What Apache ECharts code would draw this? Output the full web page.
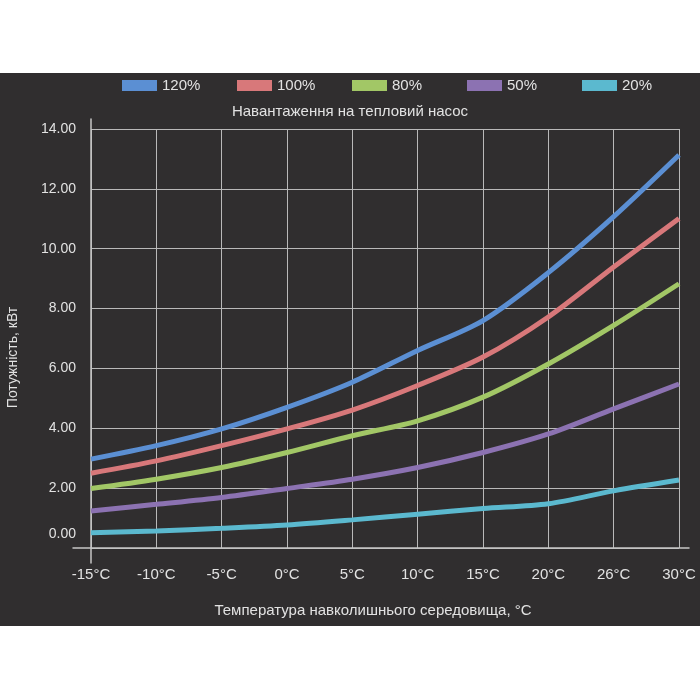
<!DOCTYPE html>
<html>
<head>
<meta charset="utf-8">
<script src="https://cdn.jsdelivr.net/npm/echarts@6/dist/echarts.min.js"></script>
<style>
    html, body { margin: 0; padding: 0; background: #ffffff; }
    #chart { width: 700px; height: 553px; margin-top: 73px; }
</style>
</head>
<body>
<div id="chart"></div>
<script>
    // температура навколишнього середовища
    var temps = ['-15°C', '-10°C', '-5°C', '0°C', '5°C', '10°C', '15°C', '20°C', '26°C', '30°C'];
    var loadNames = ['120%', '100%', '80%', '50%', '20%'];
    var load120 = [2.97, 3.42, 3.98, 4.70, 5.54, 6.60, 7.60, 9.20, 11.07, 13.13];
    var load100 = [2.50, 2.91, 3.42, 3.98, 4.61, 5.43, 6.38, 7.72, 9.39, 11.01];
    var load80 = [1.99, 2.30, 2.69, 3.19, 3.75, 4.25, 5.04, 6.15, 7.44, 8.83];
    var load50 = [1.24, 1.46, 1.69, 1.99, 2.30, 2.69, 3.19, 3.81, 4.65, 5.48];
    var load20 = [0.51, 0.57, 0.66, 0.77, 0.94, 1.13, 1.32, 1.48, 1.91, 2.27];
    var colors = ['#5b8fd3', '#d8787a', '#a2c766', '#8c72b2', '#5bb9cf'];

    var font = '"Liberation Sans", Arial, sans-serif';
    var txt = '#e2e2e2';
    var gridColor = '#b9b9b9';

    var allData = [load120, load100, load80, load50, load20];
    var series = [];
    var legends = [];
    for (var i = 0; i < allData.length; i++) {
        series.push({
            name: loadNames[i],
            type: 'line',
            data: allData[i],
            smooth: 0.3,
            symbol: 'none',
            lineStyle: { width: 5, color: colors[i] },
            itemStyle: { color: colors[i] }
        });
        // окрема легенда для кожного пункту, щоб крок був рівний
        legends.push({
            data: [loadNames[i]],
            left: 122 + i * 115,
            top: 5,
            padding: 0,
            icon: 'rect',
            itemWidth: 35,
            itemHeight: 11,
            itemTextGap: 11,
            textStyle: { color: txt, fontSize: 15, fontFamily: font }
        });
    }

    var myChart = echarts.init(document.getElementById('chart'));
    var option = {
        backgroundColor: '#302e2f',
        color: colors,
        textStyle: { fontFamily: font },
        title: {
            text: 'Навантаження на тепловий насос',
            left: 'center',
            top: 26,
            textStyle: { color: txt, fontSize: 15, fontWeight: 'normal', fontFamily: font }
        },
        legend: legends,
        grid: [
            { left: 91, right: 21, top: 56, bottom: 78, outerBoundsMode: 'none' },
            { left: 91, right: 11, top: 46, bottom: 63, outerBoundsMode: 'none' },   // продовження осі Y
            { left: 73, right: 11, top: 56, bottom: 78, outerBoundsMode: 'none' }    // продовження осі X
        ],
        xAxis: [
            {
                type: 'category',
                gridIndex: 0,
                data: temps,
                boundaryGap: false,
                name: 'Температура навколишнього середовища, °C',
                nameLocation: 'middle',
                nameGap: 55,
                nameTextStyle: { color: txt, fontSize: 15, padding: [0, 24, 0, 0] },
                axisLine: { show: false },
                axisTick: { show: false },
                axisLabel: { color: txt, fontSize: 15, margin: 19 },
                splitLine: { show: true, lineStyle: { color: gridColor, width: 1 } }
            },
            { type: 'category', gridIndex: 1, show: false, data: temps },
            {
                type: 'category',
                gridIndex: 2,
                data: temps,
                axisLine: { show: true, lineStyle: { color: '#c6c6c6', width: 1.5 } },
                axisTick: { show: false },
                axisLabel: { show: false },
                splitLine: { show: false }
            }
        ],
        yAxis: [
            {
                type: 'value',
                gridIndex: 0,
                min: 0,
                max: 14,
                interval: 2,
                name: 'Потужність, кВт',
                nameLocation: 'middle',
                nameGap: 71,
                nameRotate: 90,
                nameTextStyle: { color: txt, fontSize: 14, padding: [0, 38, 0, 0] },
                axisLine: { show: false },
                axisTick: { show: false },
                axisLabel: {
                    color: txt,
                    fontSize: 14,
                    margin: 15,
                    formatter: function (v) {
                        if (v === 0) { return '{z|0.00}'; }
                        return v.toFixed(2);
                    },
                    rich: { z: { color: txt, fontSize: 14, padding: [0, 0, 28, 0] } }
                },
                splitLine: { show: true, lineStyle: { color: gridColor, width: 1 } }
            },
            {
                type: 'value',
                gridIndex: 1,
                axisLine: { show: true, lineStyle: { color: '#c6c6c6', width: 1.5 } },
                axisTick: { show: false },
                axisLabel: { show: false },
                splitLine: { show: false }
            },
            { type: 'value', gridIndex: 2, show: false }
        ],
        series: series
    };
    myChart.setOption(option);
</script>
</body>
</html>
